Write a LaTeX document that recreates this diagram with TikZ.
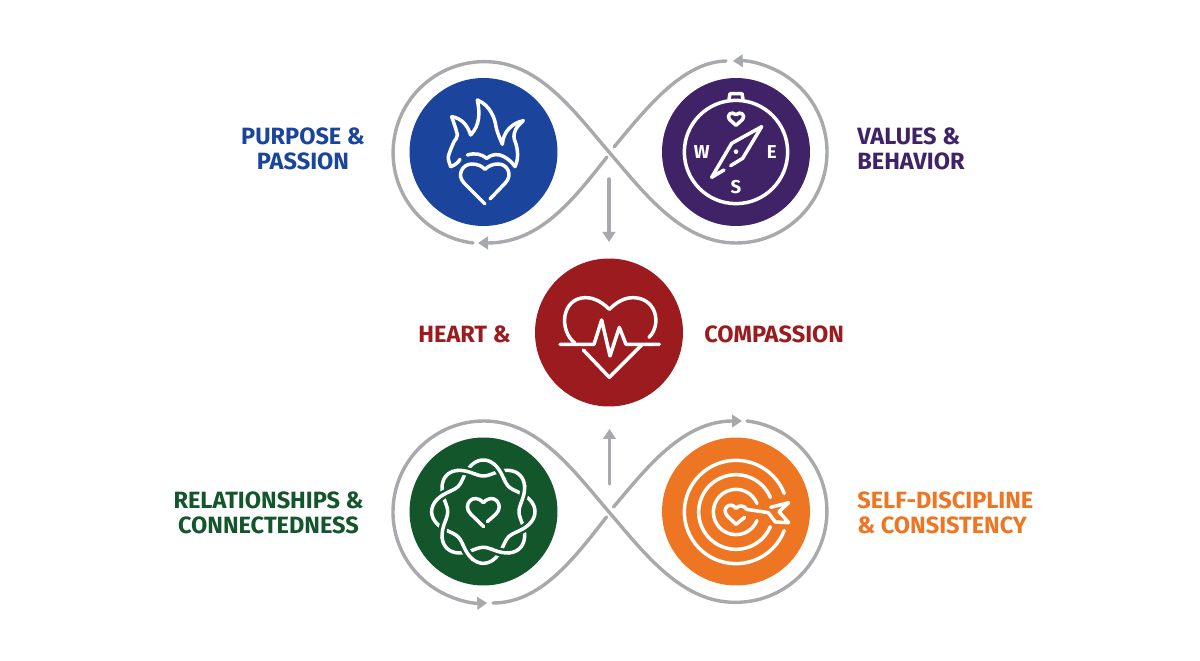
\documentclass[tikz,border=0pt]{standalone}
\usepackage{fontspec}
\setmainfont{Fira Sans}
\usetikzlibrary{arrows.meta}
\definecolor{lp}{HTML}{A7A9AC}
\definecolor{cblue}{HTML}{1B459C}
\definecolor{cpurple}{HTML}{3F2366}
\definecolor{cred}{HTML}{9B1B1F}
\definecolor{cgreen}{HTML}{14562B}
\definecolor{corange}{HTML}{EE7623}
\tikzset{
 disc/.style={circle,fill=#1,minimum size=2.96cm,inner sep=0pt,draw=none},
 loopline/.style={draw=lp,line width=0.068cm,line cap=round},
 tip/.style={-{Triangle[length=0.2cm,width=0.25cm]}},
 ic/.style={draw=white,line width=0.07cm,line cap=round,line join=round},
 lab/.style={font=\fontsize{13.4pt}{14.2pt}\selectfont\bfseries,inner sep=0pt,text=#1},
 cmp/.style={text=white,inner sep=0pt,font=\fontsize{10.6pt}{11pt}\selectfont\bfseries},
}
\begin{document}
\begin{tikzpicture}[x=0.02cm,y=-0.02cm]
\useasboundingbox (0,0) rectangle (1200,661);
\fill[white] (0,0) rectangle (1200,661);
% discs
\node[disc=cblue] (purpose) at (483.5,152) {};
\node[disc=cpurple] (values) at (736,152) {};
\node[disc=cred] (heart) at (609,332.5) {};
\node[disc=cgreen] (relations) at (483.5,511.5) {};
\node[disc=corange] (discipline) at (736,511.5) {};
% top loop
\coordinate (t1) at (473,243);
\coordinate (t2) at (478,243);
\coordinate (t3) at (607,157);
\coordinate (t4) at (614,147);
\coordinate (t5) at (726,61);
\path[loopline,tip] (t1) arc[start angle=97,end angle=270,radius=91]
  .. controls (538,61) and (573,110) .. (609,152)
  .. controls (645,194) and (682,243) .. (736,243)
  arc[start angle=90,end angle=-92,radius=91];
\path[loopline] (t5) .. controls (682,62) and (645,110) .. (t4);
\path[loopline,tip] (t3) .. controls (573,200) and (540,243) .. (t2);
% bottom loop
\coordinate (b1) at (493,603);
\coordinate (b3) at (606.5,517);
\coordinate (b4) at (613.5,507);
\coordinate (b5) at (742,421);
\coordinate (b6) at (747,421);
\path[loopline,tip] (b6) arc[start angle=-83,end angle=90,radius=91]
  .. controls (682,603) and (645,554) .. (609,512)
  .. controls (573,470) and (538,421) .. (484,421)
  arc[start angle=270,end angle=88,radius=91];
\path[loopline] (b1) .. controls (540,603) and (573,560) .. (b3);
\path[loopline,tip] (b4) .. controls (645,470) and (682,421) .. (b5);
% vertical arrows
\coordinate (a1) at (609,179);
\coordinate (a2) at (609,242);
\coordinate (a3) at (609.5,484);
\coordinate (a4) at (609.5,429);
\path[loopline,tip] (a1) -- (a2);
\path[loopline,tip] (a3) -- (a4);
% flame
\begin{scope}[shift={(380,50)},scale=1/3]
\draw[ic] plot[smooth,tension=.5] coordinates {(212,350) (205,320) (222,275) (232,255) (215,200)};
\draw[ic] (215,200) .. controls (245,205) and (262,225) .. (272,255) .. controls (300,225) and (300,190) .. (292,150)
 .. controls (330,165) and (345,205) .. (348,230) .. controls (352,250) and (360,265) .. (367,283)
 .. controls (370,245) and (395,220) .. (430,212) .. controls (410,230) and (398,245) .. (403,268)
 .. controls (410,285) and (420,320) .. (405,350);
\draw[ic] (212,350) .. controls (225,345) and (235,338) .. (240,328);
\draw[ic] (262,315) .. controls (285,308) and (305,312) .. (320,325) .. controls (335,312) and (355,310) .. (372,320) .. controls (385,327) and (397,338) .. (405,350);
\draw[ic] (315,462) -- (253,400) .. controls (228,375) and (248,342) .. (275,342) .. controls (293,342) and (305,348) .. (315,358)
 .. controls (325,348) and (337,342) .. (355,342) .. controls (382,342) and (400,375) .. (375,400) -- (330,447);
\end{scope}
% compass
\begin{scope}[shift={(600,50)},scale=1/3]
\draw[ic] (408,306) circle[radius=155];
\draw[ic] (387,148) -- (390,131) -- (426,131) -- (429,148);
\draw[ic] (408,226) -- (388,208) .. controls (378,195) and (395,182) .. (408,194) .. controls (421,182) and (438,195) .. (428,208) -- (408,226);
\draw[ic] (392,347) -- (428,325) -- (485,230) -- (395,280) -- (335,382) -- (372,360);
\fill[white] (408,305) circle[radius=7];
\node[cmp] (cw) at (305,306) {W};
\node[cmp] (ce) at (515,306) {E};
\node[cmp] (cs) at (408,410) {S};
\end{scope}
% ekg heart
\begin{scope}[shift={(520,250)},scale=1/3]
\draw[ic] (165,280) .. controls (115,240) and (125,145) .. (195,143) .. controls (225,142) and (250,160) .. (268,178)
 .. controls (286,160) and (311,142) .. (341,143) .. controls (411,145) and (425,225) .. (387,262);
\draw[ic] (190,300) -- (268,382) -- (365,285);
\draw[ic] (120,283) -- (222,283) -- (245,210) -- (270,318) -- (298,232) -- (318,283) -- (418,283);
\end{scope}
% wreath
\begin{scope}[shift={(380,410)},scale=1/3]
\draw[ic] plot[domain=0:360,samples=145,smooth] ({310+(131+24*cos(4*\x))*cos(\x)},{305+(131+24*cos(4*\x))*sin(\x)});
\draw[ic] plot[domain=0:360,samples=145,smooth] ({310+(131-24*cos(4*\x))*cos(\x)},{305+(131-24*cos(4*\x))*sin(\x)});
\foreach \c in {22.5,112.5,202.5,292.5}{
 \draw[draw=cgreen,line width=0.17cm] plot[domain=\c-9:\c+9,samples=10,smooth] ({310+(131+24*cos(4*\x))*cos(\x)},{305+(131+24*cos(4*\x))*sin(\x)});
 \draw[ic] plot[domain=\c-10:\c+10,samples=10,smooth] ({310+(131+24*cos(4*\x))*cos(\x)},{305+(131+24*cos(4*\x))*sin(\x)});
}
\foreach \c in {67.5,157.5,247.5,337.5}{
 \draw[draw=cgreen,line width=0.17cm] plot[domain=\c-9:\c+9,samples=10,smooth] ({310+(131-24*cos(4*\x))*cos(\x)},{305+(131-24*cos(4*\x))*sin(\x)});
 \draw[ic] plot[domain=\c-10:\c+10,samples=10,smooth] ({310+(131-24*cos(4*\x))*cos(\x)},{305+(131-24*cos(4*\x))*sin(\x)});
}
\draw[ic] (311,350) -- (272,312) .. controls (245,285) and (280,245) .. (310,278) .. controls (340,245) and (375,285) .. (348,312) -- (322,335);
\end{scope}
% target
\begin{scope}[shift={(600,410)},scale=1/3]
\draw[ic] (408,306) ++(-21:155) arc[start angle=-21,end angle=-339,radius=155];
\draw[ic] (408,306) ++(-23:112) arc[start angle=-23,end angle=-337,radius=112];
\draw[ic] (408,306) ++(-22:68) arc[start angle=-22,end angle=-338,radius=68];
\draw[ic] (434,322) -- (408,343) -- (382,318) .. controls (362,295) and (392,272) .. (408,295) .. controls (415,285) and (432,285) .. (440,298) -- (505,308);
\draw[ic] (512,292) -- (566,278) -- (537,305) -- (566,338) -- (526,336) -- (505,308);
\end{scope}
% labels
\node[lab=cblue,align=center] (l1) at (303,148.5) {PURPOSE \&\\PASSION};
\node[lab=cpurple,align=left,anchor=west] (l2) at (857,148.5) {VALUES \&\\BEHAVIOR};
\node[lab=cred,anchor=east] (l3) at (511,334) {HEART \&};
\node[lab=cred,anchor=west] (l4) at (704,334) {COMPASSION};
\node[lab=cgreen,align=center] (l5) at (268.5,512.5) {RELATIONSHIPS \&\\CONNECTEDNESS};
\node[lab=corange,align=left,anchor=west] (l6) at (857,512.5) {SELF-DISCIPLINE\\\& CONSISTENCY};
\end{tikzpicture}
\end{document}
